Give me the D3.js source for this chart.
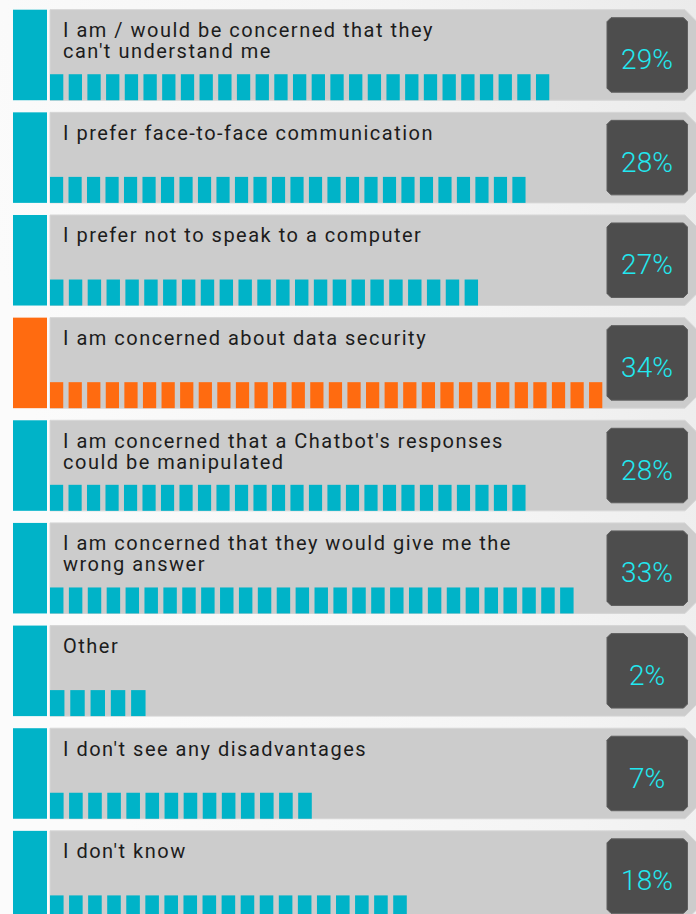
<!DOCTYPE html>
<html>
<head>
<meta charset="utf-8">
<script src="https://cdn.jsdelivr.net/npm/d3@7"></script>
<style>
	html, body { margin: 0; padding: 0; background: #f4f4f4; }
	svg { display: block; }
</style>
</head>
<body>
<div id="chart"></div>
<script>
// answers, one panel each ("\n" marks the line break used in the picture)
var categories = [
	"I am / would be concerned that they\ncan't understand me",
	"I prefer face-to-face communication",
	"I prefer not to speak to a computer",
	"I am concerned about data security",
	"I am concerned that a Chatbot's responses\ncould be manipulated",
	"I am concerned that they would give me the\nwrong answer",
	"Other",
	"I don't see any disadvantages",
	"I don't know"
];

// share of respondents, shown in the dark box
var percents = [29, 28, 27, 34, 28, 33, 2, 7, 18];

// how far the segmented bar reaches along its track (longest = 1)
var barFill = [0.904, 0.861, 0.775, 1.0, 0.861, 0.948, 0.173, 0.474, 0.646];

var highlighted = ["I am concerned about data security"];

var width = 696,
	height = 914;

var teal = "#00b3c8",
	orange = "#ff6b10";

var svg = d3.select("#chart").append("svg")
	.attr("width", width)
	.attr("height", height);

var defs = svg.append("defs");
var grad = defs.append("linearGradient")
	.attr("id", "bg")
	.attr("x1", "0").attr("y1", "0.3")
	.attr("x2", "1").attr("y2", "0");
grad.append("stop").attr("offset", "0").attr("stop-color", "#fbfbfb");
grad.append("stop").attr("offset", "0.6").attr("stop-color", "#f4f4f4");
grad.append("stop").attr("offset", "1").attr("stop-color", "#ebebeb");

svg.append("rect")
	.attr("width", width)
	.attr("height", height)
	.attr("fill", "url(#bg)");

var rowH = 90.5;

var y = d3.scaleBand()
	.domain(categories)
	.range([9.7, 9.7 + 8 * 102.65 + rowH])
	.paddingInner(0.118)
	.paddingOuter(0);

var x = d3.scaleLinear()
	.domain([0, 1])
	.range([50, 602.3]);

var panelRight = 697,
	chamfer = 12;

function colorOf(d) {
	return highlighted.indexOf(d) >= 0 ? orange : teal;
}

var rows = svg.selectAll("g.row")
	.data(categories)
	.enter().append("g")
	.attr("class", "row")
	.attr("transform", function(d) { return "translate(0," + y(d) + ")"; });

var bh = y.bandwidth();

// left colour block
rows.append("rect")
	.attr("x", 13)
	.attr("y", 0)
	.attr("width", 34)
	.attr("height", bh)
	.attr("fill", colorOf);

// grey panel with cut corners on the right
rows.append("path")
	.attr("d", function() {
		return "M50,0 L" + (panelRight - chamfer) + ",0 L" + panelRight + "," + chamfer +
			" L" + panelRight + "," + (bh - chamfer) + " L" + (panelRight - chamfer) + "," + bh +
			" L50," + bh + " Z";
	})
	.attr("fill", "#cccccc")
	.attr("stroke", "#d6d6d6")
	.attr("stroke-width", 1);

// label text
rows.append("text")
	.attr("x", 63)
	.attr("y", 27.5)
	.style("font-family", "Roboto, 'Open Sans', sans-serif")
	.style("font-size", "20px")
	.style("letter-spacing", "1.5px")
	.attr("fill", "#1c1c1c")
	.each(function(d) {
		var t = d3.select(this);
		d.split("\n").forEach(function(line, i) {
			t.append("tspan")
				.attr("x", 63)
				.attr("dy", i === 0 ? 0 : 21)
				.text(line);
		});
	});

// segmented bar
var spacing = 18.67,
	ratio = 0.712,
	segH = 26;

rows.each(function(d, i) {
	var len = x(barFill[i]) - x(0);
	var n = Math.max(1, Math.round((len + spacing * (1 - ratio)) / spacing));
	var pitch = len / (n - 1 + ratio);
	var segs = d3.range(n);
	d3.select(this).selectAll("rect.seg")
		.data(segs)
		.enter().append("rect")
		.attr("class", "seg")
		.attr("x", function(k) { return x(0) + k * pitch; })
		.attr("y", bh - segH)
		.attr("width", pitch * ratio)
		.attr("height", segH)
		.attr("fill", colorOf(d));
});

// dark value box
var bx0 = 607,
	bx1 = 687.5,
	by0 = 8,
	by1 = 82.5,
	c = 4;

rows.append("path")
	.attr("d", "M" + (bx0 + c) + "," + by0 + " L" + (bx1 - c) + "," + by0 + " L" + bx1 + "," + (by0 + c) +
		" L" + bx1 + "," + (by1 - c) + " L" + (bx1 - c) + "," + by1 + " L" + (bx0 + c) + "," + by1 +
		" L" + bx0 + "," + (by1 - c) + " L" + bx0 + "," + (by0 + c) + " Z")
	.attr("fill", "#4d4d4d")
	.attr("stroke", "#5f5f5f")
	.attr("stroke-width", 1);

rows.append("text")
	.attr("x", 647)
	.attr("y", 59.5)
	.attr("text-anchor", "middle")
	.style("font-family", "Roboto, sans-serif")
	.style("font-weight", 300)
	.style("font-size", "28px")
	.attr("fill", "#22e8f0")
	.text(function(d, i) { return percents[i] + "%"; });
</script>
</body>
</html>
